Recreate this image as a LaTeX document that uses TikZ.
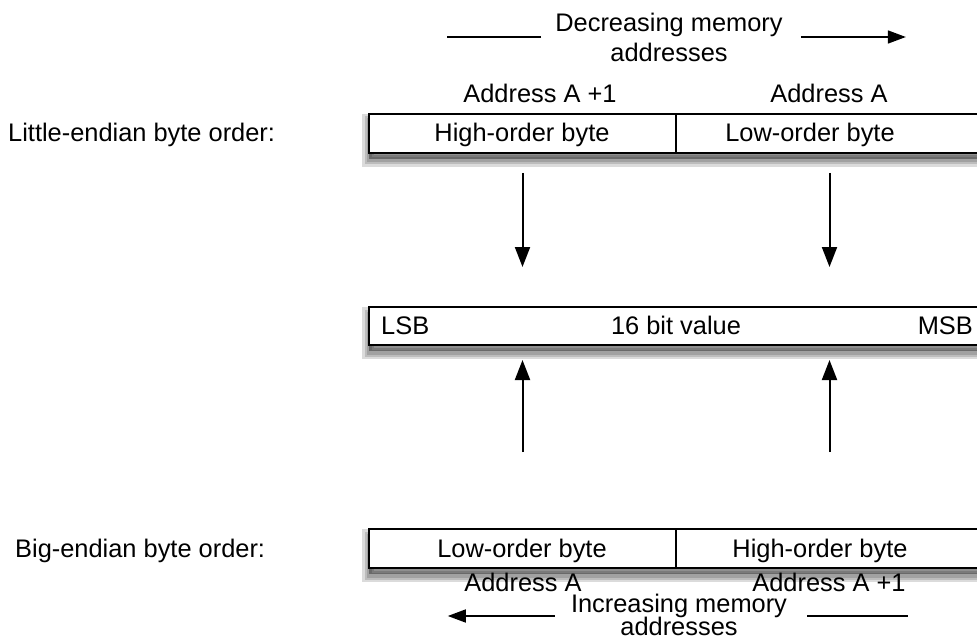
\documentclass[tikz,border=0pt]{standalone}
\usepackage{fontspec}
\setmainfont{Liberation Sans}
\usetikzlibrary{arrows.meta}

\tikzset{
  soft/.style={preaction={draw=black, line width=#1, draw opacity=0.14, transform canvas={yshift=-7pt}}},
  box/.style={draw, line width=2pt, fill=white, minimum width=614pt, minimum height=39pt, inner sep=0pt,
    soft=14pt, soft=9pt, soft=5pt,
    preaction={fill=black, fill opacity=0.35, transform canvas={yshift=-6pt}}},
  cell/.style={draw, line width=2pt, minimum width=307pt, minimum height=39pt, inner sep=0pt},
  txt/.style={inner sep=0pt, font=\fontsize{25.4}{30}\selectfont},
  flow/.style={line width=2pt, -{Triangle[length=20pt,width=15pt]}},
}

\begin{document}
\begin{tikzpicture}[x=1pt, y=-1pt]
    \clip (0,0) rectangle (977,639);

    % little-endian
    \node[box] (litBox) at (676,133.5) {};
    \node[cell] (litHi) at (522.5,133.5) {};
    \node[cell] (litLo) at (829.5,133.5) {};
    \node[txt, anchor=base] (litHiT) at (522,142) {High-order byte};
    \node[txt, anchor=base] (litLoT) at (810,142) {Low-order byte};
    \node[txt, anchor=base] (litHiA) at (540,103) {Address A +1};
    \node[txt, anchor=base] (litLoA) at (829,103) {Address A};
    \node[txt, anchor=base west] (litName) at (8,142) {Little-endian byte order:};

    \node[txt, align=center] (dec) at (669,37) {Decreasing memory\\addresses};
    \draw[line width=1.6pt] ([xshift=-14pt]dec.west) -- ++(-94,0);
    \draw[line width=1.6pt, -{Triangle[length=18pt,width=13pt]}] ([xshift=18pt]dec.east) -- ++(105,0);

    % value
    \node[box, minimum height=38pt] (val) at (676,326) {};
    \node[txt, anchor=base west] (lsb) at (381,334) {LSB};
    \node[txt, anchor=base] (valT) at (676,334) {16 bit value};
    \node[txt, anchor=base east] (msb) at (973,334) {MSB};

    \coordinate (dnTip) at ([yshift=39pt]val.north);
    \coordinate (upTip) at ([yshift=-14pt]val.south);
    \draw[flow] ([yshift=-19pt]litHi.south) -- (litHi.south |- dnTip);
    \draw[flow] ([yshift=-19pt]litLo.south) -- (litLo.south |- dnTip);

    % big-endian
    \node[box] (bigBox) at (676,548.5) {};
    \node[cell] (bigLo) at (522.5,548.5) {};
    \node[cell] (bigHi) at (829.5,548.5) {};
    \node[txt, anchor=base] (bigLoT) at (522,557) {Low-order byte};
    \node[txt, anchor=base] (bigHiT) at (820,557) {High-order byte};
    \node[txt, anchor=base] (bigLoA) at (523,591) {Address A};
    \node[txt, anchor=base] (bigHiA) at (829,591) {Address A +1};
    \node[txt, anchor=base west] (bigName) at (15,557) {Big-endian byte order:};

    \draw[flow] ([yshift=76pt]bigLo.north) -- (bigLo.north |- upTip);
    \draw[flow] ([yshift=76pt]bigHi.north) -- (bigHi.north |- upTip);

    \node[txt, align=center] (inc) at (679,614.5) {Increasing memory\\[-7pt]addresses};
    \draw[line width=1.6pt, -{Triangle[length=18pt,width=13pt]}] ([xshift=-16pt,yshift=-1.5pt]inc.west) -- ++(-107,0);
    \draw[line width=1.6pt] ([xshift=20pt,yshift=-1.5pt]inc.east) -- ++(101,0);
\end{tikzpicture}
\end{document}
